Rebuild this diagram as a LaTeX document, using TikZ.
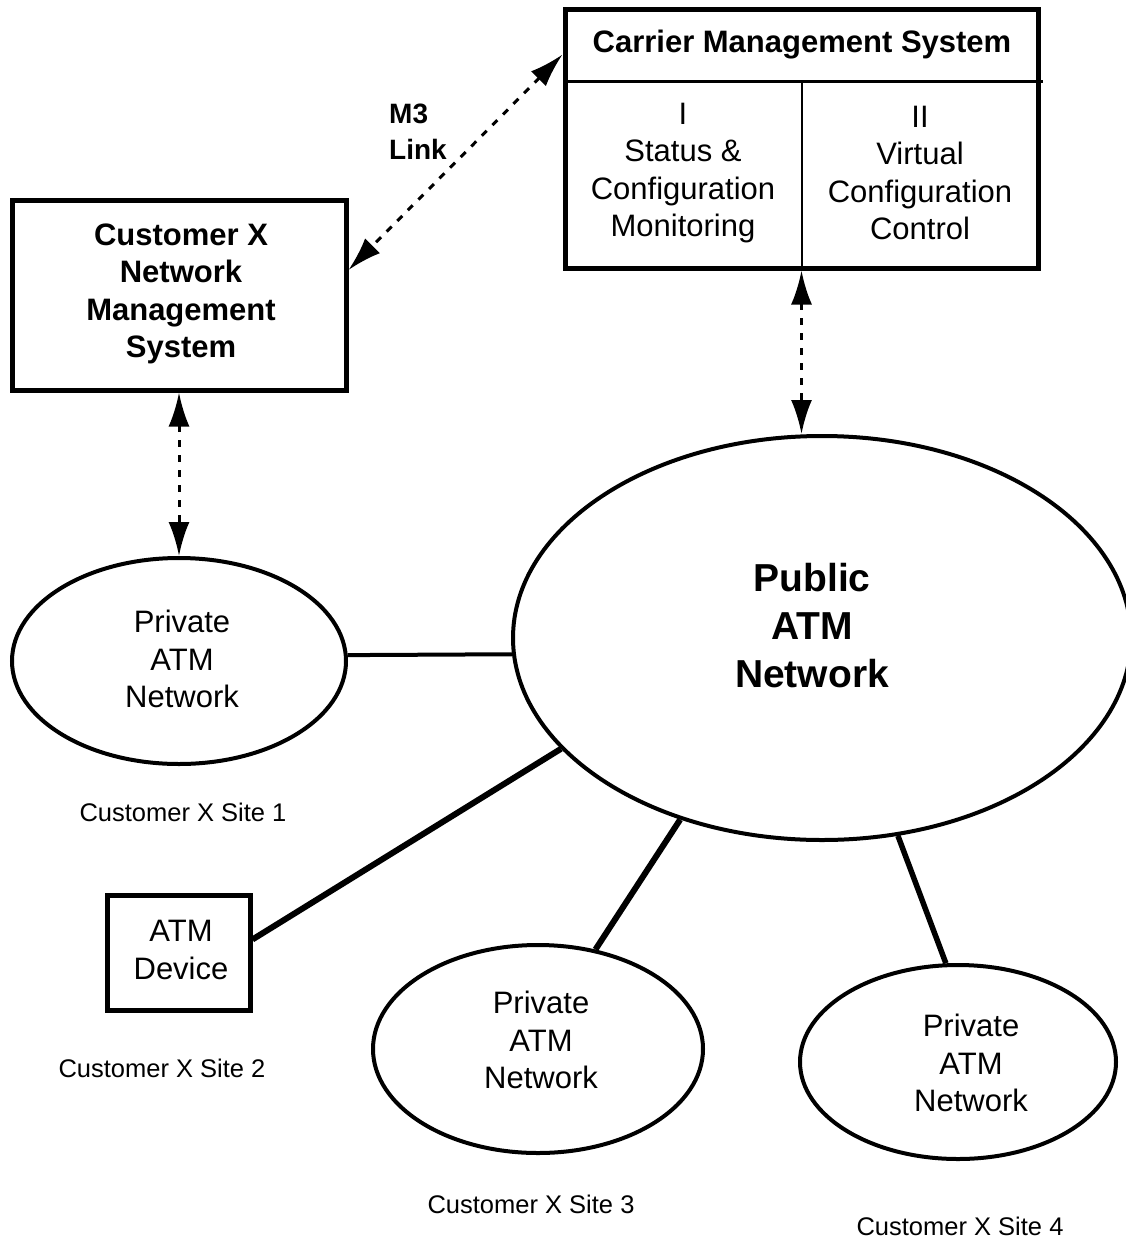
\documentclass[tikz,border=0pt]{standalone}
\usepackage{fontspec}
\setmainfont{Liberation Sans}
\usetikzlibrary{arrows.meta,shapes.geometric}

\tikzset{
  boxframe/.style={draw, line width=5pt, inner sep=0pt},
  netcloud/.style={draw, ellipse, line width=4pt, inner sep=0pt},
  bodytext/.style={align=center, inner sep=0pt, font=\fontsize{31}{37.5}\selectfont},
  boldtext/.style={align=center, inner sep=0pt, font=\bfseries\fontsize{31}{37.5}\selectfont},
  sitelabel/.style={inner sep=0pt, font=\fontsize{25.5}{30}\selectfont},
  mgmtlink/.style={line width=3pt, dash pattern=on 7pt off 8pt,
    {Latex[length=34pt,width=21pt]}-{Latex[length=34pt,width=21pt]}},
  trunk/.style={line width=#1},
}

\begin{document}
\begin{tikzpicture}[x=1pt,y=1pt]
\useasboundingbox (0,0) rectangle (1126,-1239);
\clip (0,0) rectangle (1126,-1239);

% carrier management system with its two functional areas
\node[boxframe, minimum width=473pt, minimum height=258pt] (cms) at (801.5,-139) {};
\draw[line width=3pt] (563,-81) coordinate (hdrL) -- (1043,-81) coordinate (hdrR);
\draw[line width=2pt] (802,-81) -- (802,-266);
\node[boldtext] (cmstitle) at (802,-45) {Carrier Management System};
\node[bodytext] (areaI) at (683,-173) {I\\Status \&\\Configuration\\Monitoring};
\node[bodytext] (areaII) at (920,-173) {II\\Virtual\\Configuration\\Control};

% customer network management system
\node[boxframe, minimum width=334pt, minimum height=190pt] (nms) at (179,-295) {};
\node[boldtext] (nmstext) at (181,-294) {Customer X\\Network\\Management\\System};

\node[boldtext, align=left, anchor=west, font=\bfseries\fontsize{28}{36}\selectfont] (m3) at (389,-132) {M3\\Link};

% networks
\node[netcloud, minimum width=618pt, minimum height=404pt] (pub) at (822,-638) {};
\node[boldtext, font=\bfseries\fontsize{39}{48}\selectfont] (pubtext) at (812,-626) {Public\\ATM\\Network};

\node[netcloud, minimum width=334pt, minimum height=206pt] (priv1) at (179,-661) {};
\node[bodytext] (priv1text) at (182,-659) {Private\\ATM\\Network};

\node[boxframe, minimum width=143pt, minimum height=115pt] (dev) at (178.5,-952.5) {};
\node[bodytext] (devtext) at (181,-950) {ATM\\Device};

\node[netcloud, minimum width=330pt, minimum height=208pt] (priv3) at (538,-1049) {};
\node[bodytext] (priv3text) at (541,-1040) {Private\\ATM\\Network};

\node[netcloud, minimum width=316pt, minimum height=194pt] (priv4) at (958,-1062) {};
\node[bodytext] (priv4text) at (971,-1063) {Private\\ATM\\Network};

% site captions
\node[sitelabel] (site1) at (183,-812) {Customer X Site 1};
\node[sitelabel] (site2) at (162,-1068) {Customer X Site 2};
\node[sitelabel] (site3) at (531,-1204) {Customer X Site 3};
\node[sitelabel] (site4) at (960,-1226) {Customer X Site 4};

% management links
\draw[mgmtlink] ([yshift=-47pt]cms.north west) -- ([yshift=25pt]nms.east);
\draw[mgmtlink] (cms.south) -- (cms.south |- pub.north);
\draw[mgmtlink] (nms.south) -- (priv1.north);

% access links into the public network
\draw[trunk=4pt] (priv1.2) -- (pub.183);
\draw[trunk=6pt] (dev.10) -- (pub.203.4);
\draw[trunk=6pt] (priv3.60.4) -- (pub.232.5);
\draw[trunk=5.5pt] (priv4.97.7) -- (pub.291.6);
\end{tikzpicture}
\end{document}
